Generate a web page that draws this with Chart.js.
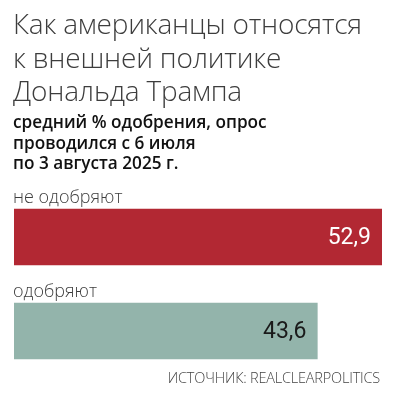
<!DOCTYPE html>
<html>
<head>
<meta charset="utf-8">
<script src="https://cdn.jsdelivr.net/npm/chart.js@4/dist/chart.umd.min.js"></script>
<style>
    body { margin: 0; background: #fff; }
    #wrap { position: relative; width: 395px; height: 394px; overflow: hidden; }
    #chart { position: absolute; left: 0; top: 0; }
    .txt { position: absolute; left: 13px; white-space: nowrap; }
    #title { top: 7px; font: 300 28px/33.5px "Open Sans", sans-serif; color: #3d3d3d; letter-spacing: -0.2px; }
    #subtitle { top: 112px; font: 600 17.2px/20.5px "Open Sans", sans-serif; color: #111; }
    #source { left: auto; right: 15px; top: 369px; font: 300 14.5px/18px "Open Sans", sans-serif; color: #444; letter-spacing: -0.2px; }
</style>
</head>
<body>
<div id="wrap">
    <canvas id="chart" width="395" height="394"></canvas>
    <div class="txt" id="title">Как американцы относятся<br>к внешней политике<br>Дональда Трампа</div>
    <div class="txt" id="subtitle">средний % одобрения, опрос<br>проводился с 6 июля<br>по 3 августа 2025 г.</div>
    <div class="txt" id="source">ИСТОЧНИК: REALCLEARPOLITICS</div>
</div>
<script>
// Data
const categories = ['не одобряют', 'одобряют'];
const values = [52.9, 43.6];

const barColors = ['#b22833', '#93b4ab'];
const valueColors = ['#ffffff', '#1a1a1a'];

// Category labels above bars and values inside bar ends
const barLabels = {
    id: 'barLabels',
    afterDatasetsDraw(chart) {
        const ctx = chart.ctx;
        const meta = chart.getDatasetMeta(0);
        meta.data.forEach((bar, i) => {
            const half = bar.height / 2;
            ctx.save();
            ctx.font = '300 18px "Open Sans", sans-serif';
            ctx.fillStyle = '#3d3d3d';
            ctx.textAlign = 'left';
            ctx.textBaseline = 'alphabetic';
            ctx.fillText(categories[i], chart.chartArea.left - 1, bar.y - half - 6);

            ctx.font = '23px Roboto, sans-serif';
            ctx.fillStyle = valueColors[i];
            ctx.textAlign = 'right';
            ctx.textBaseline = 'middle';
            ctx.fillText(values[i].toFixed(1).replace('.', ','), bar.x - 11, bar.y + 1);
            ctx.restore();
        });
    }
};

new Chart(document.getElementById('chart'), {
    type: 'bar',
    data: {
        labels: categories,
        datasets: [{
            data: values,
            backgroundColor: barColors,
            borderWidth: 0,
            barThickness: 56
        }]
    },
    options: {
        indexAxis: 'y',
        responsive: false,
        animation: false,
        layout: { padding: { left: 14, right: 13, top: 190, bottom: 16 } },
        scales: {
            x: { min: 0, max: 52.9, display: false },
            y: { display: false }
        },
        plugins: {
            legend: { display: false },
            tooltip: { enabled: false }
        }
    },
    plugins: [barLabels]
});
</script>
</body>
</html>
